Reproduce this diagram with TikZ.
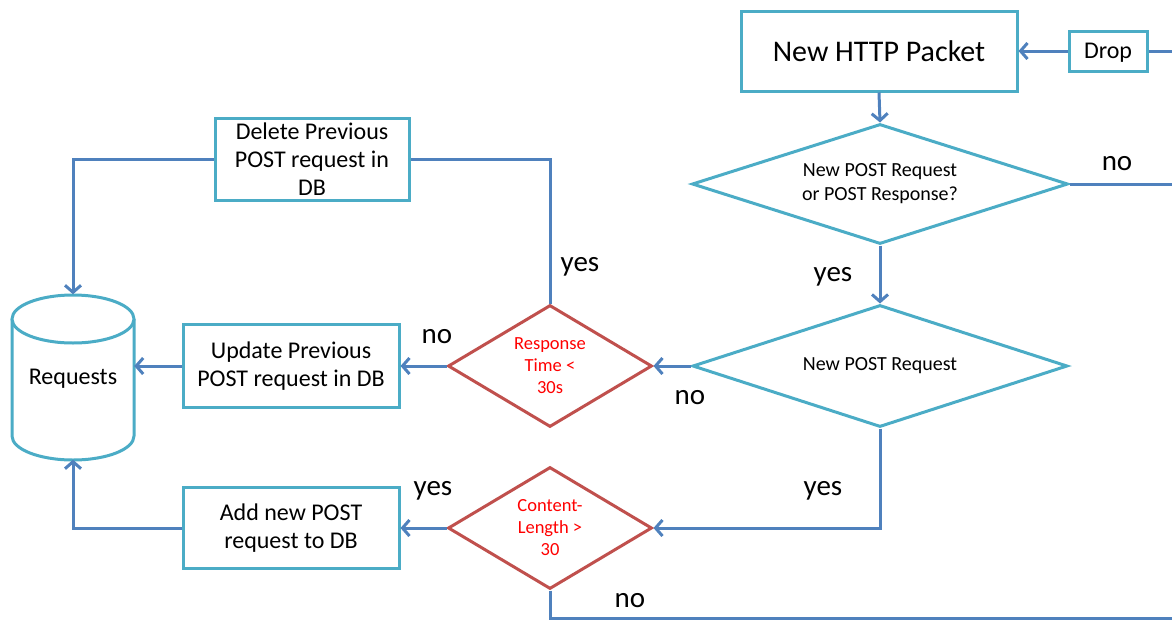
\documentclass[tikz,border=0pt]{standalone}
\usepackage{fontspec}
\setmainfont{Carlito}
\usetikzlibrary{shapes.geometric,arrows.meta}
\definecolor{boxc}{HTML}{4BACC6}
\definecolor{linec}{HTML}{4F81BD}
\definecolor{redc}{HTML}{C0504D}
\begin{document}
\begin{tikzpicture}[x=1pt,y=-1pt,
 box/.style={draw=boxc,line width=3pt,fill=white,align=center,inner sep=0pt},
 dia/.style={diamond,aspect=3.1,draw=boxc,line width=3pt,align=center,inner sep=0pt,font=\fontsize{20}{24}\selectfont},
 rdia/.style={diamond,aspect=1.67,draw=redc,line width=3pt,align=center,inner sep=0pt,text=red,font=\fontsize{18.5}{22}\selectfont,minimum width=204pt,minimum height=122pt},
 conn/.style={draw=linec,line width=3pt},
 arr/.style={conn,-{Straight Barb[length=7pt,width=16pt]}},
 lbl/.style={font=\fontsize{29}{32}\selectfont,inner sep=0pt}]
\useasboundingbox (0,0) rectangle (1172,621);
% nodes
\node[box,minimum width=276pt,minimum height=80pt,font=\fontsize{30}{34}\selectfont] (http) at (879,51) {New HTTP Packet};
\node[box,minimum width=78pt,minimum height=40pt,text depth=0pt,font=\fontsize{24}{28}\selectfont] (drop) at (1108,51) {Drop};
\coordinate (dropin) at (1172,51);
\node[dia,minimum width=376pt,minimum height=120pt] (d1) at (880,184) {New POST Request\\or POST Response?};
\coordinate (d1out) at (1172,184);
\node[dia,minimum width=375pt,minimum height=122pt] (d2) at (880,366) {New POST Request};
\node[rdia] (d3) at (550,366) {Response\\Time <\\30s};
\node[rdia] (d4) at (550,528) {Content-\\Length >\\30};
\coordinate (d4out) at (1172,618);
\node[box,minimum width=194pt,minimum height=82pt,font=\fontsize{24}{28}\selectfont] (del) at (312,159) {Delete Previous\\POST request in\\DB};
\node[box,minimum width=216pt,minimum height=83pt,font=\fontsize{24}{28}\selectfont] (upd) at (291,366) {Update Previous\\POST request in DB};
\node[box,minimum width=216pt,minimum height=81pt,font=\fontsize{24}{28}\selectfont] (add) at (291,528) {Add new POST\\request to DB};
% cylinder
\draw[boxc,line width=3pt,fill=white] (12,319) -- (12,436) arc[start angle=180,end angle=360,x radius=61pt,y radius=24pt] -- (134,319);
\draw[boxc,line width=3pt,fill=white] (73,319) ellipse [x radius=61pt,y radius=24pt];
\node[minimum width=122pt,minimum height=165pt,inner sep=0pt,text depth=0pt,font=\fontsize{24}{28}\selectfont] (req) at (73,377) {Requests};
% connectors
\draw[conn] (dropin) -- (drop.east);
\draw[arr] (drop.west) -- (http.east);
\draw[arr] (http.south) -- (d1.north);
\draw[conn] (d1.east) -- (d1.east -| d1out);
\draw[arr] (d1.south) -- (d2.north);
\draw[arr] (d2.west) -- (d3.east);
\draw[conn] (d3.north) |- (del.east);
\draw[arr] (del.west) -| (req.north);
\draw[arr] (d3.west) -- (upd.east);
\draw[arr] (upd.west) -- (upd.west -| req.east);
\draw[arr] (d2.south) |- (d4.east);
\draw[arr] (d4.west) -- (add.east);
\draw[arr] (add.west) -| (req.south);
\draw[conn] (d4.south) |- (d4out);
% labels
\node[lbl] (l1) at (1117,164) {no};
\node[lbl] (l2) at (833,277) {yes};
\node[lbl] (l3) at (580,267) {yes};
\node[lbl] (l4) at (437,337) {no};
\node[lbl] (l5) at (690,398) {no};
\node[lbl] (l6) at (823,491) {yes};
\node[lbl] (l7) at (433,491) {yes};
\node[lbl] (l8) at (630,601) {no};
\end{tikzpicture}
\end{document}
